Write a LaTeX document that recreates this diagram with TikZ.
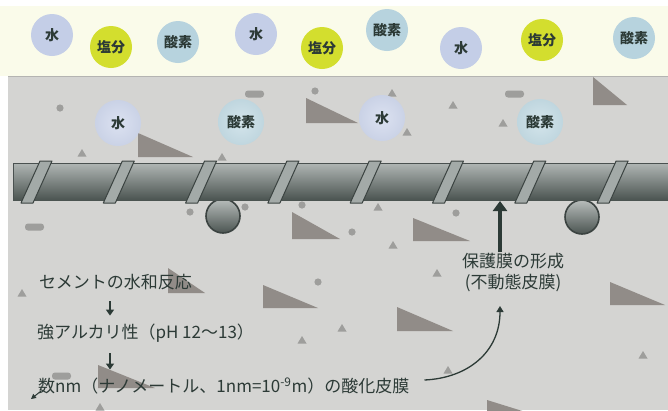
\documentclass[tikz,border=0pt]{standalone}
\usepackage{fontspec}
\setmainfont{Noto Sans CJK JP}
\usetikzlibrary{arrows.meta,calc}

\definecolor{cream}{HTML}{FAFBEA}
\definecolor{concrete}{HTML}{D4D4D2}
\definecolor{aggr}{HTML}{918C88}
\definecolor{grit}{HTML}{9E9E9C}
\definecolor{ink}{HTML}{2C3A36}
\definecolor{water}{HTML}{C4CEE7}
\definecolor{salt}{HTML}{D3DE2E}
\definecolor{oxy}{HTML}{B7D3DE}
\definecolor{barhi}{HTML}{B0B6B4}
\definecolor{barmid}{HTML}{848C8A}
\definecolor{barlo}{HTML}{4B5451}
\definecolor{barline}{HTML}{4A5150}
\definecolor{ribfill}{HTML}{A3AAA8}
\definecolor{ribline}{HTML}{3B4341}

% soft halos for molecules inside the concrete
\pgfdeclareradialshading{glowwater}{\pgfpoint{0bp}{0bp}}{%
  color(0bp)=(water!60!white); color(30bp)=(water!85!concrete); color(50bp)=(concrete)}
\pgfdeclareradialshading{glowoxy}{\pgfpoint{0bp}{0bp}}{%
  color(0bp)=(oxy!60!white); color(30bp)=(oxy!85!concrete); color(50bp)=(concrete)}

\tikzset{
  ion/.style={circle, minimum size=42pt, inner sep=0pt,
    font=\bfseries\fontsize{14}{14}\selectfont, text=ink},
  waterion/.style={ion, fill=water},
  saltion/.style={ion, fill=salt},
  oxyion/.style={ion, fill=oxy},
  waterhalo/.style={ion, minimum size=46pt, shade, shading=glowwater},
  oxyhalo/.style={ion, minimum size=46pt, shade, shading=glowoxy},
  stone/.style={fill=aggr},
  grain/.style={fill=grit},
  rib/.style={fill=ribfill, draw=ribline, line width=1pt, line join=round},
  stirrup/.style={draw=ribline, line width=1.6pt, top color=barhi!90!white, bottom color=barlo},
  lbl/.style={font=\fontsize{17}{21}\selectfont, text=ink, inner sep=1pt},
  flow/.style={draw=ink, line width=1.8pt, -{Triangle[length=6pt,width=8pt]}},
  push/.style={draw=ink, line width=3.6pt, -{Triangle[length=10pt,width=14pt]}},
  curvearrow/.style={draw=ink, line width=1.3pt, -{Triangle[length=6pt,width=7pt]}},
}

\begin{document}
\begin{tikzpicture}[x=1pt, y=-1pt]
\useasboundingbox (0,0) rectangle (668,410);
\clip (0,0) rectangle (668,410);

% background layers: air above, concrete below
\fill[white] (0,0) rectangle (668,410);
\fill[cream] (0,6) rectangle (668,76);
\fill[concrete] (8,76) rectangle (668,410);
\draw[concrete!85!black, line width=0.8pt] (8,76.5) -- (668,76.5);

% aggregate wedges
\foreach \x/\y/\w/\h in {138/133/55/24, 306/98/52/25, 593/77/34/28, 292/212/48/27,
    413/218/57/23, 168/268/37/25, 263/285/55/23, 98/365/57/23, 397/307/56/24,
    610/282/55/23, 487/400/45/14}
  \fill[stone] (\x,\y) -- ++(0,\h) -- ++(\w,0) -- cycle;

% small grit triangles
\foreach \x/\y in {82/153, 222/157, 392/93, 453/105, 407/132, 503/123, 378/207,
    22/293, 302/340, 342/328, 393/245, 437/273, 643/355, 448/370, 100/407}
  \fill[grain] (\x,\y) ++(0,-4) -- ++(4.5,7.5) -- ++(-9,0) -- cycle;

% grit dots
\foreach \x/\y in {60/108, 315/91, 190/212, 245/207, 302/205, 456/213, 352/232, 318/282}
  \fill[grain] (\x,\y) circle (3.6);

% grit pebbles
\foreach \x/\y in {245/94, 25/227, 505/94, 52/376}
  \fill[grain, rounded corners=3pt] (\x,\y-3.5) rectangle (\x+19,\y+3.5);

% molecules in the air
\node[waterion] (w1) at (52,35)  {水};
\node[saltion]  (s1) at (111,47) {塩分};
\node[oxyion]   (o1) at (178,42) {酸素};
\node[waterion] (w2) at (256,34) {水};
\node[saltion]  (s2) at (322,48) {塩分};
\node[oxyion]   (o2) at (387,30) {酸素};
\node[waterion] (w3) at (461,48) {水};
\node[saltion]  (s3) at (542,40) {塩分};
\node[oxyion]   (o3) at (634,38) {酸素};

% molecules that have entered the concrete
\node[waterhalo] (w4) at (118,123) {水};
\node[oxyhalo]   (o4) at (241,122) {酸素};
\node[waterhalo] (w5) at (382,118) {水};
\node[oxyhalo]   (o5) at (540,122) {酸素};

% stirrup cross-sections under the main bar
\shade[stirrup] (223,216) circle (17);
\shade[stirrup] (582,217) circle (17);

% main reinforcing bar
\shade[top color=barhi, middle color=barmid, bottom color=barlo] (13,163) rectangle (668,200);
\draw[barline, line width=1.3pt] (13,163.5) -- (668,163.5);
\draw[barline, line width=0.8pt] (13.4,163) -- (13.4,200);
\foreach \i in {0,...,7} {
  \pgfmathsetmacro\rx{40+82.3*\i}
  \filldraw[rib] (\rx,161) -- ++(12,0) -- ++(-19,42) -- ++(-12,0) -- cycle;
}
\coordinate (hit) at (500,201);

% explanation texts
\node[lbl, align=center] (film) at (513,273) {保護膜の形成\\(不動態皮膜)};
\node[lbl, anchor=west] (cement) at (38,282) {セメントの水和反応};
\node[lbl, anchor=west] (alkali) at (36,333) {強アルカリ性（pH 12〜13）};
\node[lbl, anchor=west] (oxide) at (37,386) {数nm（ナノメートル、1nm=10\textsuperscript{-9}m）の酸化皮膜};

% connectors
\coordinate (ax) at (110,0);
\draw[flow, shorten <=10pt, shorten >=7pt] (cement.south -| ax) -- (alkali.north -| ax);
\draw[flow, shorten <=10pt, shorten >=7pt] (alkali.south -| ax) -- (oxide.north -| ax);
\draw[push] (film.north -| hit) -- (hit);
\coordinate (tip) at (500,306);
\draw[curvearrow] ([shift={(14,-6)}]oxide.east) .. controls (468,378) and (500,352) .. (tip);
\coordinate (nick1) at (41,391);
\coordinate (nick2) at (31,399);
\draw[draw=ink, line width=1pt, -{Triangle[length=5pt,width=5pt]}] (nick1) -- (nick2);

\end{tikzpicture}
\end{document}
